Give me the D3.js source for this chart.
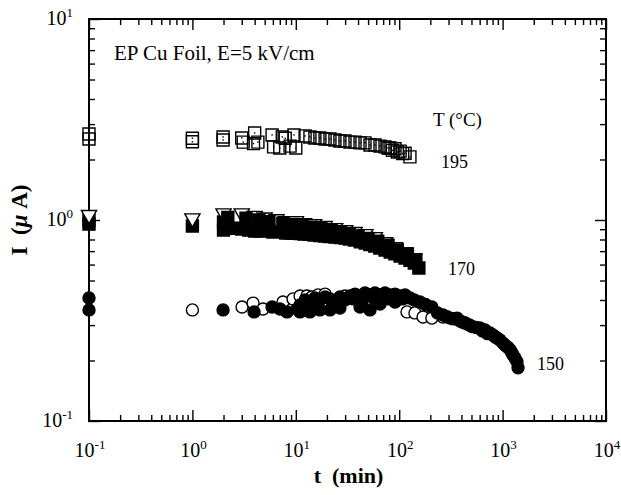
<!DOCTYPE html>
<html>
<head>
<meta charset="utf-8">
<script src="https://cdn.jsdelivr.net/npm/d3@7"></script>
<style>
  html, body { margin: 0; padding: 0; background: #fff; }
  svg { display: block; font-family: 'Liberation Serif', 'Times New Roman', serif; }
</style>
</head>
<body>
<div id="chart"></div>
<script>
// Оси
const xDecades = [0.1, 1, 10, 100, 1000, 10000];
const xExponents = ['-1', '0', '1', '2', '3', '4'];
const yDecades = [0.1, 1, 10];
const yExponents = ['-1', '0', '1'];

// 195 °C, открытые квадраты
const t195 = [0.1, 0.1, 1.0, 1.0, 1.98, 1.98, 3.0, 3.1, 3.9, 4.0, 4.3, 5.9, 6.1, 7.0, 7.4, 7.9, 8.8, 9.6, 10.0,
  12.3, 13.7, 15.3, 17.1, 19.2, 21.4, 23.9, 26.7, 29.9, 33.4, 37.4, 41.8, 46.7, 52.2, 58.3, 65.2, 72.9,
  78.0, 81.5, 86.0, 91.1, 96.0, 102, 108, 114, 127];
const i195 = [2.68, 2.53, 2.55, 2.45, 2.59, 2.50, 2.56, 2.44, 2.40, 2.71, 2.44, 2.65, 2.31, 2.28, 2.59, 2.55, 2.33, 2.65, 2.28,
  2.62, 2.59, 2.56, 2.56, 2.53, 2.53, 2.50, 2.47, 2.47, 2.44, 2.44, 2.42, 2.42, 2.36, 2.36, 2.33, 2.31,
  2.28, 2.28, 2.22, 2.26, 2.18, 2.20, 2.14, 2.15, 2.06];

// 170 °C, открытые треугольники
const t170Tri = [0.1, 1.0, 2.0, 3.0, 4.0, 5.0, 6.5, 8.0, 10, 12, 15, 19, 24, 30, 37, 47, 58, 73, 91, 114, 140];
const i170Tri = [1.06, 1.02, 1.08, 1.08, 1.05, 1.03, 1.01, 0.989, 0.989, 0.966, 0.955, 0.934, 0.912, 0.892, 0.872,
  0.852, 0.823, 0.777, 0.734, 0.693, 0.647];

// 170 °C, закрашенные квадраты (нижний ряд)
const t170Sq = [0.1, 0.1, 1.0, 2.0, 2.0, 2.5, 3.0, 3.5, 4.0, 4.5, 5.0, 6.0, 7.0, 8.0, 9.0, 10, 11, 12, 13.5, 15, 17, 19,
  21, 24, 27, 30, 33, 37, 42, 47, 52, 58, 65, 73, 82, 91, 102, 114, 127, 140, 155];
const i170Sq = [1.0, 0.955, 0.934, 0.977, 0.892, 0.91, 0.902, 0.89, 0.882, 0.88, 0.892, 0.872, 0.882, 0.862, 0.86,
  0.862, 0.855, 0.852, 0.848, 0.842, 0.838, 0.833, 0.828, 0.823, 0.818, 0.814, 0.805, 0.795, 0.78, 0.768, 0.755,
  0.742, 0.725, 0.709, 0.693, 0.678, 0.662, 0.647, 0.63, 0.611, 0.577];

// 170 °C, закрашенные квадраты (верхний ряд)
const t170SqUp = [2.2, 3.3, 4.4, 5.5, 7.5, 9.5, 11.5, 14, 17.5, 22, 27, 33, 40, 50, 62, 78, 96, 120, 145];
const i170SqUp = [1.03, 1.02, 1.0, 0.98, 0.96, 0.95, 0.94, 0.92, 0.905, 0.885, 0.865, 0.85, 0.83, 0.81, 0.785,
  0.75, 0.71, 0.675, 0.63];

// 150 °C, открытые кружки
const t150Open = [1.0, 3.02, 3.86, 4.82, 7.52, 9.40, 11.0, 12.8, 14.3, 16.4, 19.2, 29.9, 61.0, 119, 142, 170, 207, 265];
const i150Open = [0.357, 0.369, 0.386, 0.361, 0.391, 0.405, 0.419, 0.419, 0.414, 0.424, 0.428, 0.419, 0.391,
  0.349, 0.345, 0.329, 0.325, 0.329];

// 150 °C, закрашенные кружки
const t150Filled = [0.1, 0.1, 1.98, 3.95, 5.89, 7.03, 8.22, 10.3, 11.0, 11.0, 12.3, 13.7, 13.7, 15.3, 17.1, 17.1,
  19.2, 21.4, 21.4, 23.9, 26.7, 26.7, 29.9, 33.4, 37.4, 41.8, 41.8, 46.7, 52.2, 52.2, 58.3, 65.2, 65.2, 72.9,
  81.5, 91.1, 91.1, 102, 114, 127, 159, 207, 265, 310, 362, 405, 453, 506, 604, 676, 755, 807, 883, 944, 1009,
  1079, 1180, 1262, 1318, 1378, 1410, 36.0, 44.0, 56.0, 69.0, 77.0, 86.0, 97.0, 108, 120, 140, 180, 235, 290,
  335, 385, 430, 480, 555, 640, 715, 850, 1040, 1130, 1220];
const i150Filled = [0.409, 0.357, 0.357, 0.349, 0.369, 0.361, 0.349, 0.361, 0.378, 0.349, 0.400, 0.386, 0.349,
  0.409, 0.400, 0.357, 0.414, 0.405, 0.357, 0.391, 0.414, 0.365, 0.400, 0.419, 0.428, 0.419, 0.369, 0.433,
  0.424, 0.357, 0.433, 0.424, 0.382, 0.433, 0.424, 0.428, 0.391, 0.419, 0.424, 0.409, 0.391, 0.369, 0.337,
  0.325, 0.325, 0.311, 0.304, 0.295, 0.290, 0.284, 0.274, 0.268, 0.259, 0.253, 0.244, 0.236, 0.226, 0.213,
  0.206, 0.197, 0.184, 0.405, 0.400, 0.412, 0.410, 0.405, 0.412, 0.408, 0.405, 0.412, 0.400, 0.380, 0.345,
  0.330, 0.322, 0.315, 0.308, 0.300, 0.292, 0.280, 0.272, 0.262, 0.240, 0.232, 0.220];

const width = 621;
const height = 495;
const margin = { left: 89, right: 15, top: 19, bottom: 74 };

const svg = d3.select('#chart')
  .append('svg')
  .attr('width', width)
  .attr('height', height);

const x = d3.scaleLog()
  .domain([0.1, 10000])
  .range([margin.left, width - margin.right]);

const y = d3.scaleLog()
  .domain([0.1, 10])
  .range([height - margin.bottom, margin.top]);

const plotW = width - margin.left - margin.right;
const plotH = height - margin.top - margin.bottom;

// Засечки внутрь со всех четырёх сторон
function addTicks(axisFn, scale, values, size, transform) {
  const g = svg.append('g')
    .attr('transform', transform)
    .call(axisFn(scale).tickValues(values).tickSize(size).tickFormat(''));
  g.select('.domain').remove();
  g.selectAll('.tick line').attr('stroke', '#000').attr('stroke-width', 1.4);
}

const xMinor = x.ticks().filter((v) => !xDecades.includes(v));
const yMinor = y.ticks().filter((v) => !yDecades.includes(v));
const bottomT = `translate(0,${height - margin.bottom})`;
const topT = `translate(0,${margin.top})`;
const leftT = `translate(${margin.left},0)`;
const rightT = `translate(${width - margin.right},0)`;

addTicks(d3.axisBottom, x, xDecades, -11, bottomT);
addTicks(d3.axisBottom, x, xMinor, -6, bottomT);
addTicks(d3.axisTop, x, xDecades, -11, topT);
addTicks(d3.axisTop, x, xMinor, -6, topT);
addTicks(d3.axisLeft, y, yDecades, -11, leftT);
addTicks(d3.axisLeft, y, yMinor, -6, leftT);
addTicks(d3.axisRight, y, yDecades, -11, rightT);
addTicks(d3.axisRight, y, yMinor, -6, rightT);

svg.append('rect')
  .attr('x', margin.left)
  .attr('y', margin.top)
  .attr('width', plotW)
  .attr('height', plotH)
  .attr('fill', 'none')
  .attr('stroke', '#000')
  .attr('stroke-width', 2);

// Подписи делений 10^n
xDecades.forEach((v, i) => {
  const label = svg.append('text')
    .attr('x', x(v) + 1)
    .attr('y', height - margin.bottom + 36)
    .attr('text-anchor', 'middle')
    .attr('font-size', 20);
  label.append('tspan').text('10');
  label.append('tspan').attr('dy', -8).attr('font-size', 13).text(xExponents[i]);
});

yDecades.forEach((v, i) => {
  const label = svg.append('text')
    .attr('x', margin.left - 16)
    .attr('y', y(v) + 6)
    .attr('text-anchor', 'end')
    .attr('font-size', 20);
  label.append('tspan').text('10');
  label.append('tspan').attr('dy', -8).attr('font-size', 13).text(yExponents[i]);
});

// Заголовки осей
svg.append('text')
  .attr('x', margin.left + plotW / 2 + 1)
  .attr('y', height - 12)
  .attr('text-anchor', 'middle')
  .attr('font-size', 22)
  .attr('font-weight', 'bold')
  .attr('xml:space', 'preserve')
  .style('white-space', 'pre')
  .text('t  (min)');

const yTitle = svg.append('text')
  .attr('transform', `translate(27,${margin.top + plotH / 2}) rotate(-90)`)
  .attr('text-anchor', 'middle')
  .attr('font-size', 23)
  .attr('font-weight', 'bold')
  .attr('xml:space', 'preserve')
  .style('white-space', 'pre');
yTitle.append('tspan').text('I  (');
yTitle.append('tspan').attr('font-style', 'italic').text('μ');
yTitle.append('tspan').text(' A)');

// Маркеры
const plot = svg.append('g');

function drawSeries(ts, is, type, size, fill, rotate, dot) {
  const pts = ts.map((t, k) => [t, is[k]]);
  const sym = d3.symbol().type(type).size(size);
  plot.append('g')
    .selectAll('path')
    .data(pts)
    .enter()
    .append('path')
    .attr('d', sym)
    .attr('transform', (d) => `translate(${x(d[0])},${y(d[1])}) rotate(${rotate})`)
    .attr('fill', fill)
    .attr('stroke', '#000')
    .attr('stroke-width', 1.4);
  if (dot) {
    plot.append('g')
      .selectAll('rect')
      .data(pts)
      .enter()
      .append('rect')
      .attr('x', (d) => x(d[0]) - 0.7)
      .attr('y', (d) => y(d[1]) - 0.7)
      .attr('width', 1.4)
      .attr('height', 1.4)
      .attr('fill', '#000');
  }
}

drawSeries(t195, i195, d3.symbolSquare, 144, 'none', 0, true);
drawSeries(t170Sq, i170Sq, d3.symbolSquare, 144, '#000', 0, false);
drawSeries(t170Tri, i170Tri, d3.symbolTriangle, 100, '#fff', 180, false);
drawSeries(t170SqUp, i170SqUp, d3.symbolSquare, 144, '#000', 0, false);
drawSeries(t150Open, i150Open, d3.symbolCircle, 113, '#fff', 0, false);
drawSeries(t150Filled, i150Filled, d3.symbolCircle, 113, '#000', 0, false);

// Надписи
const notes = [
  { text: 'EP Cu Foil, E=5 kV/cm', x: 114, y: 60, size: 21 },
  { text: 'T (°C)', x: 433, y: 126, size: 19 },
  { text: '195', x: 441, y: 168, size: 18 },
  { text: '170', x: 448, y: 275, size: 18 },
  { text: '150', x: 537, y: 370, size: 18 },
];

svg.selectAll('text.note')
  .data(notes)
  .enter()
  .append('text')
  .attr('class', 'note')
  .attr('x', (d) => d.x)
  .attr('y', (d) => d.y)
  .attr('font-size', (d) => d.size)
  .text((d) => d.text);
</script>
</body>
</html>
